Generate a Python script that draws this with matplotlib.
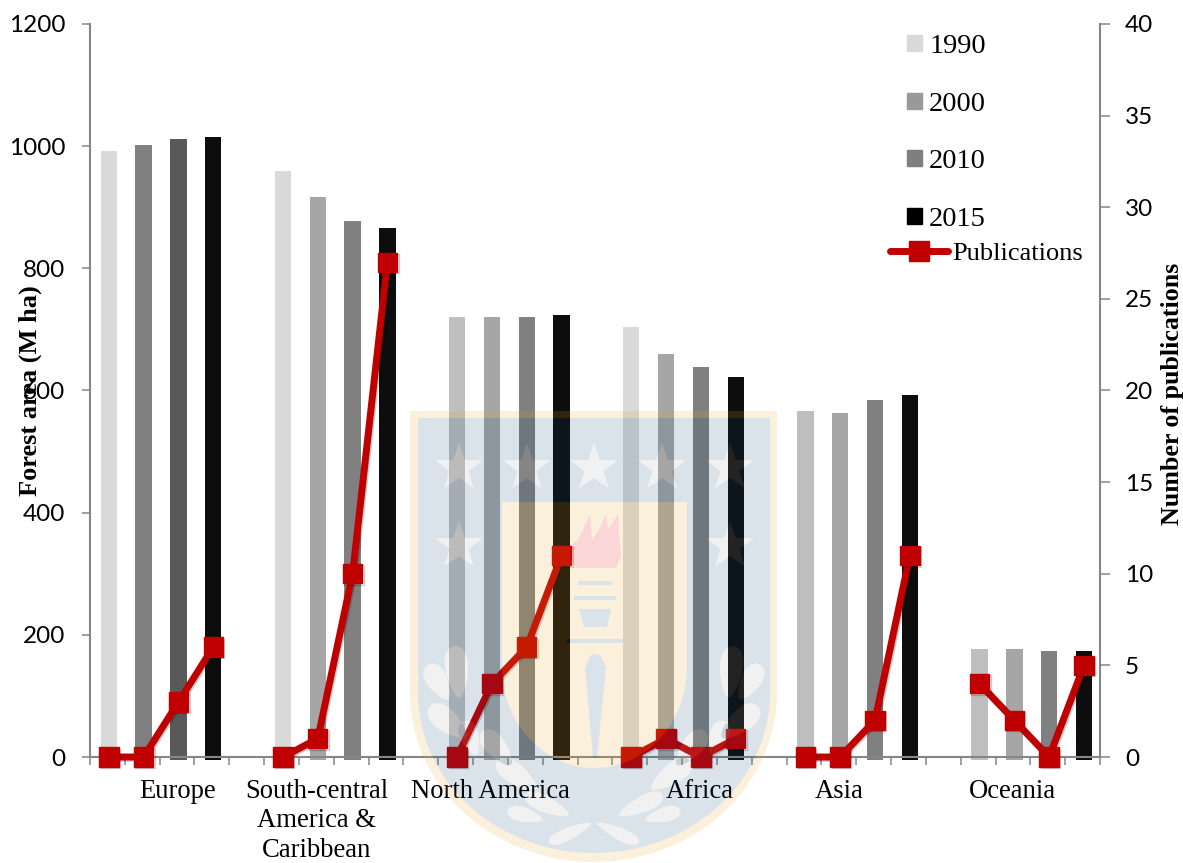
import numpy as np
import matplotlib
matplotlib.use('Agg')
import matplotlib.pyplot as plt
import matplotlib.patheffects as pe
from matplotlib.lines import Line2D
from matplotlib.patches import Patch, PathPatch
from matplotlib.path import Path
from matplotlib.transforms import Affine2D

regions = ['Europe', 'South-central\nAmerica &\nCaribbean', 'North America', 'Africa', 'Asia', 'Oceania']
years = ['1990', '2000', '2010', '2015']
area_1990 = [992, 959, 720, 704, 566, 176]
area_2000 = [1002, 917, 720, 660, 563, 176]
area_2010 = [1012, 877, 720, 638, 585, 173]
area_2015 = [1015, 866, 723, 622, 592, 173]
pubs_europe = [0, 0, 3, 6]
pubs_sca = [0, 1, 10, 27]
pubs_namerica = [0, 4, 6, 11]
pubs_africa = [0, 1, 0, 1]
pubs_asia = [0, 0, 2, 11]
pubs_oceania = [4, 2, 0, 5]
left_ticks = [0, 200, 400, 600, 800, 1000, 1200]
right_ticks = [0, 5, 10, 15, 20, 25, 30, 35, 40]

# shade of each bar, one row per region
shades = [['#d9d9d9', '#808080', '#595959', '#0d0d0d'],
          ['#d9d9d9', '#a6a6a6', '#808080', '#0d0d0d'],
          ['#bfbfbf', '#a6a6a6', '#808080', '#0d0d0d'],
          ['#d9d9d9', '#a6a6a6', '#808080', '#0d0d0d'],
          ['#bfbfbf', '#a6a6a6', '#808080', '#0d0d0d'],
          ['#bfbfbf', '#a6a6a6', '#808080', '#0d0d0d']]
legend_colors = ['#d9d9d9', '#999999', '#7f7f7f', '#000000']
axis_color = '#868686'
red = '#c00000'
serif = 'Liberation Serif'
sans = 'Lato'

W, H = 1183, 863
fig = plt.figure(figsize=(W / 100, H / 100), dpi=100)
ax = fig.add_axes([90 / W, 1 - 757 / H, 1010 / W, 733 / H])
ax2 = ax.twinx()

# 4 bars and one empty slot per region
slot = 5
nudge = 0.04
areas = [area_1990, area_2000, area_2010, area_2015]
below = 5  # bars stick out a little under the axis
for g in range(len(regions)):
    for i in range(len(years)):
        ax.bar(g * slot + i + nudge, areas[i][g] + below, bottom=-below, width=0.47,
               color=shades[g][i], clip_on=False, zorder=1)

shadow = [pe.SimpleLineShadow(offset=(1, -1), alpha=0.2), pe.Normal()]
pubs = [pubs_europe, pubs_sca, pubs_namerica, pubs_africa, pubs_asia, pubs_oceania]
for g in range(len(regions)):
    ax2.plot(g * slot + np.arange(len(years)) + nudge, pubs[g], color=red, lw=5, marker='s',
             ms=14, clip_on=False, zorder=5, path_effects=shadow)

ax.set_xlim(-0.5, 28.5)
ax.set_ylim(0, 1200)
ax2.set_ylim(0, 40)
ax.set_yticks(left_ticks)
ax2.set_yticks(right_ticks)

# group names sit on hidden major ticks, tick marks are the slot edges
ax.set_xticks([2, 6, 11, 17, 21, 26])
ax.set_xticklabels(regions, family=serif, fontsize=19.2, linespacing=1.22)
ax.set_xticks(np.arange(-0.5, 29), minor=True)
ax.tick_params(axis='x', which='major', length=0, pad=16)
ax.tick_params(axis='x', which='minor', length=5.8, width=1.1, color=axis_color)

ax.tick_params(axis='y', length=5.8, width=1.1, color=axis_color, pad=12, labelsize=17.5)
ax2.tick_params(axis='y', length=7, width=1.1, color=axis_color, pad=11, labelsize=17.5)
for lab in ax.get_yticklabels() + ax2.get_yticklabels():
    lab.set_family(sans)

for a in [ax, ax2]:
    a.patch.set_visible(False)
    for s in a.spines.values():
        s.set_visible(False)
ax.spines['left'].set_visible(True)
ax.spines['bottom'].set_visible(True)
ax2.spines['right'].set_visible(True)
for s in [ax.spines['left'], ax.spines['bottom'], ax2.spines['right']]:
    s.set_color(axis_color)
    s.set_linewidth(1.5)

fig.text(30 / W, 1 - 391 / H, 'Forest area (M ha)', rotation=90, family=serif, weight='bold',
         fontsize=19, ha='center', va='center', zorder=6)
fig.text(1172 / W, 1 - 394 / H, 'Number of publications', rotation=90, family=serif, weight='bold',
         fontsize=18.7, ha='center', va='center')

# legends
px = fig.transFigure
handles = [Patch(color=c) for c in legend_colors]
leg = ax2.legend(handles, years, loc='upper left', bbox_to_anchor=(907 / W, 1 - 34 / H), bbox_transform=px,
                 frameon=False, prop={'family': serif, 'size': 20.5}, handlelength=0.53, handleheight=0.5,
                 handletextpad=0.25, labelspacing=1.15, borderaxespad=0, borderpad=0)
ax2.add_artist(leg)
line_h = Line2D([], [], color=red, lw=5, marker='s', ms=14, solid_capstyle='round')
ax2.legend([line_h], ['Publications'], loc='upper left', bbox_to_anchor=(890 / W, 1 - 242 / H), bbox_transform=px,
           frameon=False, prop={'family': serif, 'size': 19}, handlelength=2.2, handletextpad=0.15,
           borderaxespad=0, borderpad=0)


# university crest watermark, laid over the whole figure in pixel coordinates
def shield(left, right, top, neck, bottom):
    cx = (left + right) / 2
    t = np.linspace(0, np.pi, 60)
    xs = cx + (right - cx) * np.cos(t)
    ys = neck + (bottom - neck) * np.sin(t)
    return np.vstack([[left, top], [right, top], np.column_stack([xs, ys])])


def star(cx, cy, r):
    t = -np.pi / 2 + np.arange(10) * np.pi / 5
    rr = np.where(np.arange(10) % 2 == 0, r, r * 0.4)
    return np.column_stack([cx + rr * np.cos(t), cy + rr * np.sin(t)])


def leaf(cx, cy, a, b, angle):
    t = np.linspace(0, 2 * np.pi, 30)
    u = a * np.cos(t)
    v = b * np.sin(t) * (1 - 0.35 * np.cos(t))
    c, s = np.cos(np.radians(angle)), np.sin(np.radians(angle))
    return np.column_stack([cx + u * c - v * s, cy + u * s + v * c])


def signed_area(p):
    return 0.5 * np.sum(p[:, 0] * np.roll(p[:, 1], -1) - np.roll(p[:, 0], -1) * p[:, 1])


def compound(outer, holes=()):
    verts, codes = [], []
    for k, p in enumerate([outer] + list(holes)):
        positive = signed_area(p) > 0
        if positive != (k == 0):
            p = p[::-1]
        verts.append(np.vstack([p, p[0]]))
        codes += [Path.MOVETO] + [Path.LINETO] * (len(p) - 1) + [Path.CLOSEPOLY]
    return Path(np.vstack(verts), codes)


to_px = Affine2D().scale(1, -1).translate(0, H)


def overlay(path, color, alpha):
    fig.add_artist(PathPatch(path, facecolor=color, edgecolor='none', alpha=alpha, transform=to_px, zorder=20))


crest_cx = 594
outer_shield = shield(410, 777, 411, 693, 862)
blue_shield = shield(418, 770, 418, 693, 853)
inner_shield = shield(502, 687, 502, 667, 768)
stars = [star(x, y, 25) for x, y in [(459, 468), (527, 468), (594, 468), (662, 468), (730, 468), (459, 546), (730, 546)]]
half_leaves = [(457, 672, 26, 11, 85), (438, 682, 20, 10, 60), (448, 722, 24, 11, 40), (470, 738, 18, 9, 70),
               (497, 748, 22, 10, 50), (517, 775, 24, 10, 35), (547, 805, 24, 8, 25), (525, 815, 18, 7, 15),
               (570, 833, 23, 6, -25)]
leaves = [leaf(x, y, a, b, r) for x, y, a, b, r in half_leaves]
leaves += [leaf(2 * crest_cx - x, y, a, b, 180 - r) for x, y, a, b, r in half_leaves]
flame = np.array([[575, 568], [570, 556], [571, 545], [578, 540], [590, 515], [592, 540], [600, 528], [606, 514],
                  [608, 530], [618, 514], [619, 535], [621, 556], [616, 568]])
torch = [np.array([[578, 581], [612, 581], [612, 585], [578, 585]]),
         np.array([[574, 596], [616, 596], [616, 600], [574, 600]]),
         np.array([[579, 609], [611, 609], [607, 627], [584, 627]]),
         np.array([[567, 639], [623, 639], [623, 643], [567, 643]]),
         np.array([[585, 668], [590, 656], [595, 654], [601, 656], [606, 668], [597, 757], [593, 757]])]

overlay(compound(outer_shield, [blue_shield]), (232 / 255, 162 / 255, 31 / 255), 0.16)
overlay(compound(blue_shield, [inner_shield] + stars + leaves), (7 / 255, 62 / 255, 117 / 255), 0.145)
overlay(compound(inner_shield, [flame] + torch), (232 / 255, 162 / 255, 31 / 255), 0.16)
overlay(compound(flame), (224 / 255, 6 / 255, 6 / 255), 0.16)
for p in torch:
    overlay(compound(p), (7 / 255, 62 / 255, 117 / 255), 0.145)
for p in stars + leaves:
    overlay(compound(p), '#a5a5a5', 0.145)

fig.savefig('out.png', dpi=100)
